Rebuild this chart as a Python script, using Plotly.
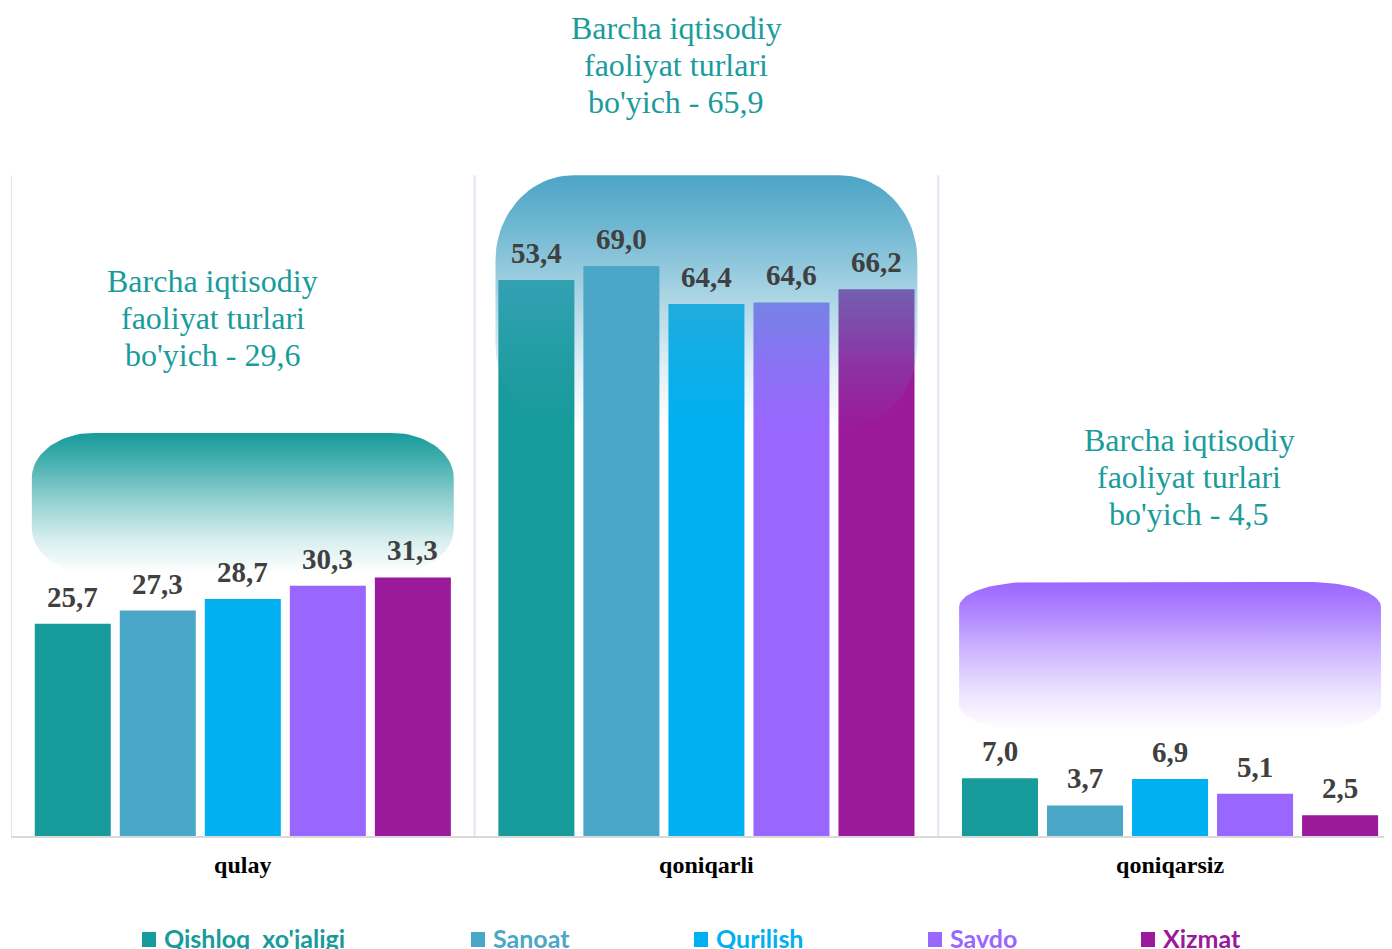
import numpy as np
import plotly.graph_objects as go

# ---------------- data ----------------
categories = ["qulay", "qoniqarli", "qoniqarsiz"]
series_names = ["Qishloq  xo'jaligi", "Sanoat", "Qurilish", "Savdo", "Xizmat"]
# bar heights as drawn in the picture
qishloq = [25.7, 67.3, 7.0]
sanoat = [27.3, 69.0, 3.7]
qurilish = [28.7, 64.4, 6.9]
savdo = [30.3, 64.6, 5.1]
xizmat = [31.3, 66.2, 2.5]
# value labels as printed in the picture
qishloq_labels = ["25,7", "53,4", "7,0"]
sanoat_labels = ["27,3", "69,0", "3,7"]
qurilish_labels = ["28,7", "64,4", "6,9"]
savdo_labels = ["30,3", "64,6", "5,1"]
xizmat_labels = ["31,3", "66,2", "2,5"]
overall = ["29,6", "65,9", "4,5"]

series_values = [qishloq, sanoat, qurilish, savdo, xizmat]
series_labels = [qishloq_labels, sanoat_labels, qurilish_labels,
                 savdo_labels, xizmat_labels]
series_colors = ["#179B9B", "#4BA7C8", "#00B0F0", "#9966FF", "#9B199B"]

# ---------------- layout constants ----------------
OFF = 8                      # page body margin of the html page
W, H = 1392, 949
ML, MR, MT, MB = 11 - OFF, 0, 10 - OFF, H - (836 - OFF)
XR = [-0.5, 2.496]
YR = [0, 100]
BARGAP, BARGROUPGAP = 0.083, 0.106
PX_X = (W - ML - MR) / (XR[1] - XR[0])
PX_Y = (H - MT - MB) / (YR[1] - YR[0])
SLOT_PX = (1 - BARGAP) / len(series_names) * PX_X


def paper_x(px):
    return (px - OFF - ML) / (W - ML - MR)


def paper_y(py):
    return (H - MB - (py - OFF)) / (H - MT - MB)


fig = go.Figure()

# bars
for name, vals, col in zip(series_names, series_values, series_colors):
    fig.add_trace(go.Bar(
        x=categories, y=vals, name=name,
        marker=dict(color=col, line=dict(width=0)),
        showlegend=False, hoverinfo="x+name",
    ))

# rounded gradient backdrops (decoration, on overlay axes)
bg_colors = [(23, 155, 155), (75, 165, 198), (155, 102, 255)]
bg_top = [48.8, 80.0, 30.75]
bg_bottom = [31.8, 49.2, 12.8]
bg_rx_px = [62, 78, 72]
bg_ry_px = [45, 85, 25]
half_w = 0.455


def rounded_rect(cx, top, bottom, rxp, ryp):
    rx = rxp / PX_X
    ry = ryp / PX_Y
    l, r = cx - half_w, cx + half_w
    t = np.linspace(0, np.pi / 2, 24)
    xs, ys = [], []
    xs += list(r - rx + rx * np.cos(t)); ys += list(top - ry + ry * np.sin(t))
    xs += list(l + rx - rx * np.cos(t[::-1])); ys += list(top - ry + ry * np.sin(t[::-1]))
    xs += list(l + rx - rx * np.cos(t)); ys += list(bottom + ry - ry * np.sin(t))
    xs += list(r - rx + rx * np.cos(t[::-1])); ys += list(bottom + ry - ry * np.sin(t[::-1]))
    xs.append(xs[0]); ys.append(ys[0])
    return xs, ys


for i, c in enumerate(bg_colors):
    xs, ys = rounded_rect(i, bg_top[i], bg_bottom[i], bg_rx_px[i], bg_ry_px[i])
    r, g, b = c
    cs = [[0, f"rgba({r},{g},{b},0)"],
          [0.25, f"rgba({r},{g},{b},0.18)"],
          [0.55, f"rgba({r},{g},{b},0.5)"],
          [0.8, f"rgba({r},{g},{b},0.8)"],
          [1, f"rgba({r},{g},{b},1)"]]
    fig.add_trace(go.Scatter(
        x=xs, y=ys, mode="lines", fill="toself",
        fillgradient=dict(type="vertical", colorscale=cs),
        line=dict(width=0), xaxis="x2", yaxis="y2",
        showlegend=False, hoverinfo="skip",
    ))

annotations = []
# value labels
for si, (vals, labs) in enumerate(zip(series_values, series_labels)):
    for ci, (v, lab) in enumerate(zip(vals, labs)):
        annotations.append(dict(
            x=categories[ci], y=v, xref="x", yref="y",
            xshift=(si - 2) * SLOT_PX, yshift=27,
            text=f"<b>{lab}</b>", showarrow=False,
            font=dict(family="Liberation Serif", size=29, color="#404040"),
            yanchor="middle", xanchor="center",
        ))

# group titles (one annotation per line to match line spacing)
title_xshift = [-30, -30, 19]
title_py = [318, 65, 477]
LINE_GAP = 37
for ci, ov in enumerate(overall):
    lines = ["Barcha iqtisodiy", "faoliyat turlari", f"bo'yich - {ov}"]
    for li, txt in enumerate(lines):
        annotations.append(dict(
            x=categories[ci], xref="x", xshift=title_xshift[ci],
            y=paper_y(title_py[ci] + (li - 1) * LINE_GAP), yref="paper",
            text=txt, showarrow=False, align="center",
            font=dict(family="Liberation Serif", size=32, color="#1A9C9C"),
            xanchor="center", yanchor="middle",
        ))

# custom legend
leg_sq_px = [142, 471, 694, 928, 1141]
shapes = []
for si, name in enumerate(series_names):
    x0 = leg_sq_px[si]
    shapes.append(dict(type="rect", xref="paper", yref="paper",
                       x0=paper_x(x0), x1=paper_x(x0 + 14),
                       y0=paper_y(947), y1=paper_y(932),
                       fillcolor=series_colors[si], line=dict(width=0)))
    annotations.append(dict(
        x=paper_x(x0 + 20), y=paper_y(938), xref="paper", yref="paper",
        text=f"<b>{name.replace(' ', '&nbsp;')}</b>", showarrow=False,
        xanchor="left", yanchor="middle",
        font=dict(family="Lato", size=25, color=series_colors[si]),
    ))

# category separators
for xb in [-0.5, 0.5, 1.5]:
    shapes.append(dict(type="line", xref="x2", yref="y2", x0=xb, x1=xb,
                       y0=0, y1=80, line=dict(color="#DCE7F3", width=2),
                       layer="below"))

fig.update_layout(
    width=W, height=H,
    margin=dict(l=ML, r=MR, t=MT, b=MB),
    paper_bgcolor="white", plot_bgcolor="white",
    barmode="group", bargap=BARGAP, bargroupgap=BARGROUPGAP,
    showlegend=False,
    xaxis=dict(range=XR, showgrid=False, zeroline=False, showline=True,
               linecolor="#D9D9D9", linewidth=2, ticks="",
               tickfont=dict(family="Liberation Serif", size=24, color="black",
                             weight="bold"),
               ticklabelstandoff=6, fixedrange=True),
    yaxis=dict(range=YR, visible=False, showgrid=False, zeroline=False,
               fixedrange=True),
    xaxis2=dict(range=XR, overlaying="x", visible=False, showgrid=False,
                zeroline=False),
    yaxis2=dict(range=YR, overlaying="y", visible=False, showgrid=False,
                zeroline=False),
    annotations=annotations,
    shapes=shapes,
)

fig.write_html("out.html")
